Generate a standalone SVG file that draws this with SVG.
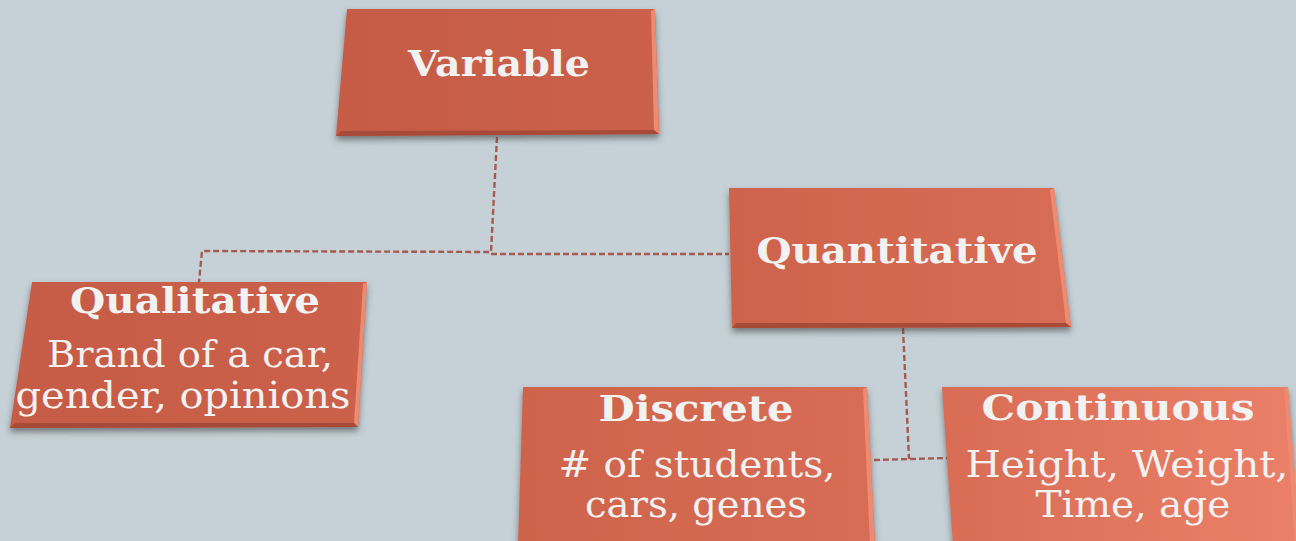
<svg xmlns="http://www.w3.org/2000/svg" width="1296" height="541" viewBox="0 0 1296 541">
<defs>
<style>
.bg{fill:#C5D1D7}
.conn{fill:none;stroke:#A65A4E;stroke-width:2.4;stroke-dasharray:6 3}
.t{font-family:"DejaVu Serif","Liberation Serif",serif;font-weight:bold;font-size:35px;fill:#F2F2F2;text-anchor:middle}
.b{font-family:"DejaVu Serif","Liberation Serif",serif;font-size:37px;fill:#F2F2F2;text-anchor:middle}
.edgeR{fill:#EE8A72}
.edgeB{fill:#A84A38}
</style>
<linearGradient id="g1" x1="0" y1="0" x2="1" y2="0">
<stop offset="0" stop-color="#C65B45"/><stop offset="1" stop-color="#CB614B"/>
</linearGradient>
<linearGradient id="g2" x1="0" y1="0" x2="1" y2="0">
<stop offset="0" stop-color="#CE634B"/><stop offset="1" stop-color="#D86D56"/>
</linearGradient>
<linearGradient id="g3" x1="0" y1="0" x2="1" y2="0">
<stop offset="0" stop-color="#D86C55"/><stop offset="1" stop-color="#EB8068"/>
</linearGradient>
<filter id="sh" x="-10%" y="-10%" width="120%" height="130%">
<feDropShadow dx="0" dy="4" stdDeviation="3" flood-color="#3A3A3A" flood-opacity="0.6"/>
</filter>
</defs>
<rect class="bg" x="0" y="0" width="1296" height="541"/>
<g id="connectors">
<path class="conn" d="M497,137 L491,252 L202,251 L199,282"/>
<path class="conn" d="M491,254 L729,254"/>
<path class="conn" d="M903,328 L909,459"/>
<path class="conn" d="M874,460 L948,458"/>
</g>
<g id="variable">
<polygon points="347,9 655,9 659,134 336,136" fill="url(#g1)" filter="url(#sh)"/>
<polygon class="edgeR" points="651,11 655,9 659,134 654,130"/>
<polygon class="edgeB" points="341,131 654,130 659,134 336,136"/>
<text class="t" x="499" y="76" textLength="182" lengthAdjust="spacingAndGlyphs">Variable</text>
</g>
<g id="qualitative">
<polygon points="32,282 367,282 358,427 10,428" fill="url(#g1)" filter="url(#sh)"/>
<polygon class="edgeR" points="363,284 367,282 358,427 354,423"/>
<polygon class="edgeB" points="15,423 354,423 358,427 10,428"/>
<text class="t" x="195" y="313" textLength="250" lengthAdjust="spacingAndGlyphs">Qualitative</text>
<text class="b" x="190" y="367" textLength="286" lengthAdjust="spacingAndGlyphs">Brand of a car,</text>
<text class="b" x="183" y="408" textLength="335" lengthAdjust="spacingAndGlyphs">gender, opinions</text>
</g>
<g id="quantitative">
<polygon points="729,188 1054,188 1071,327 732,328" fill="url(#g2)" filter="url(#sh)"/>
<polygon class="edgeR" points="1050,190 1054,188 1071,327 1066,323"/>
<polygon class="edgeB" points="736,323 1066,323 1071,327 732,328"/>
<text class="t" x="897" y="263" textLength="281" lengthAdjust="spacingAndGlyphs">Quantitative</text>
</g>
<g id="discrete">
<polygon points="523,387 867,387 875,545 518,545" fill="url(#g2)" filter="url(#sh)"/>
<polygon class="edgeR" points="863,389 867,387 875,545 870,545"/>
<text class="t" x="696" y="421" textLength="195" lengthAdjust="spacingAndGlyphs">Discrete</text>
<text class="b" x="697" y="477" textLength="277" lengthAdjust="spacingAndGlyphs"># of students,</text>
<text class="b" x="696" y="517" textLength="222" lengthAdjust="spacingAndGlyphs">cars, genes</text>
</g>
<g id="continuous">
<polygon points="942,387 1288,387 1300,545 953,545" fill="url(#g3)" filter="url(#sh)"/>
<polygon class="edgeR" points="1284,389 1288,387 1300,545 1295,545"/>
<text class="t" x="1118" y="420" textLength="273" lengthAdjust="spacingAndGlyphs">Continuous</text>
<text class="b" x="1127" y="477" textLength="323" lengthAdjust="spacingAndGlyphs">Height, Weight,</text>
<text class="b" x="1133" y="517" textLength="195" lengthAdjust="spacingAndGlyphs">Time, age</text>
</g>
</svg>
